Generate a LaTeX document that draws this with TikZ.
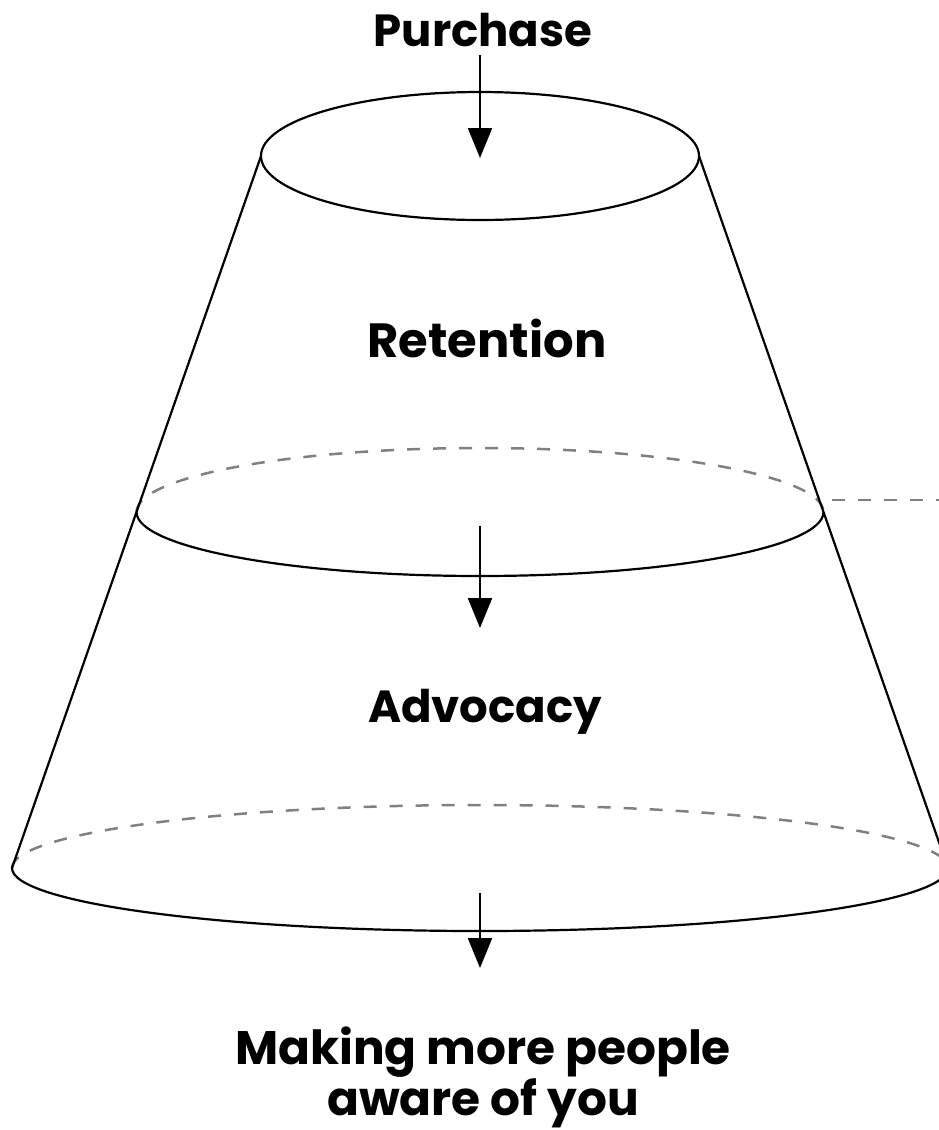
\documentclass[tikz,border=0pt]{standalone}
\usepackage{fontspec}
\setmainfont{Poppins}
\usetikzlibrary{arrows.meta}
\begin{document}
\begin{tikzpicture}[x=1pt,y=-1pt,
  solidline/.style={line width=2.2pt,black},
  hidden/.style={line width=2.5pt,black!50,dash pattern=on 13pt off 13pt},
  flow/.style={line width=2.2pt,-{Triangle[length=30pt,width=24pt]}},
  label/.style={font=\fontsize{#1}{#1}\selectfont\bfseries,inner sep=0pt,anchor=base},
  biglabel/.style={font=\fontsize{47}{48}\selectfont\bfseries,inner sep=0pt,align=center,anchor=base}]
\useasboundingbox (0,0) rectangle (939,1130);
\clip (0,0) rectangle (939,1130);
% top ellipse
\draw[solidline] (480,156) ellipse [x radius=219, y radius=64];
% middle ellipse
\draw[hidden] (136.5,512) arc[start angle=180,end angle=360,x radius=343.5,y radius=64];
\draw[solidline] (136.5,512) arc[start angle=180,end angle=0,x radius=343.5,y radius=64];
% bottom ellipse
\draw[hidden] (12,868) arc[start angle=180,end angle=360,x radius=468,y radius=63];
\draw[solidline] (12,868) arc[start angle=180,end angle=0,x radius=468,y radius=63];
% sides
\coordinate (tl) at (261,156);
\coordinate (tr) at (699,156);
\coordinate (bl) at (12,868);
\coordinate (br) at (948,868);
\draw[solidline] (tl) -- (bl);
\draw[solidline] (tr) -- (br);
% dashed line to right
\coordinate (dl) at (832,500);
\coordinate (dr) at (945,500);
\draw[hidden] (dl) -- (dr);
% labels
\node[label=45] (purchase) at (483,46) {Purchase};
\node[label=48] (retention) at (487,357) {Retention};
\node[label=45] (advocacy) at (485,722) {Advocacy};
\node[biglabel] (aware) at (483,1115) {Making more people\\aware of you};
% arrows
\coordinate (a1s) at (480,55);
\coordinate (a1e) at (480,158);
\coordinate (a2s) at (480,526);
\coordinate (a2e) at (480,628);
\coordinate (a3s) at (480,893);
\coordinate (a3e) at (480,968);
\draw[flow] (a1s) -- (a1e);
\draw[flow] (a2s) -- (a2e);
\draw[flow] (a3s) -- (a3e);
\end{tikzpicture}
\end{document}
